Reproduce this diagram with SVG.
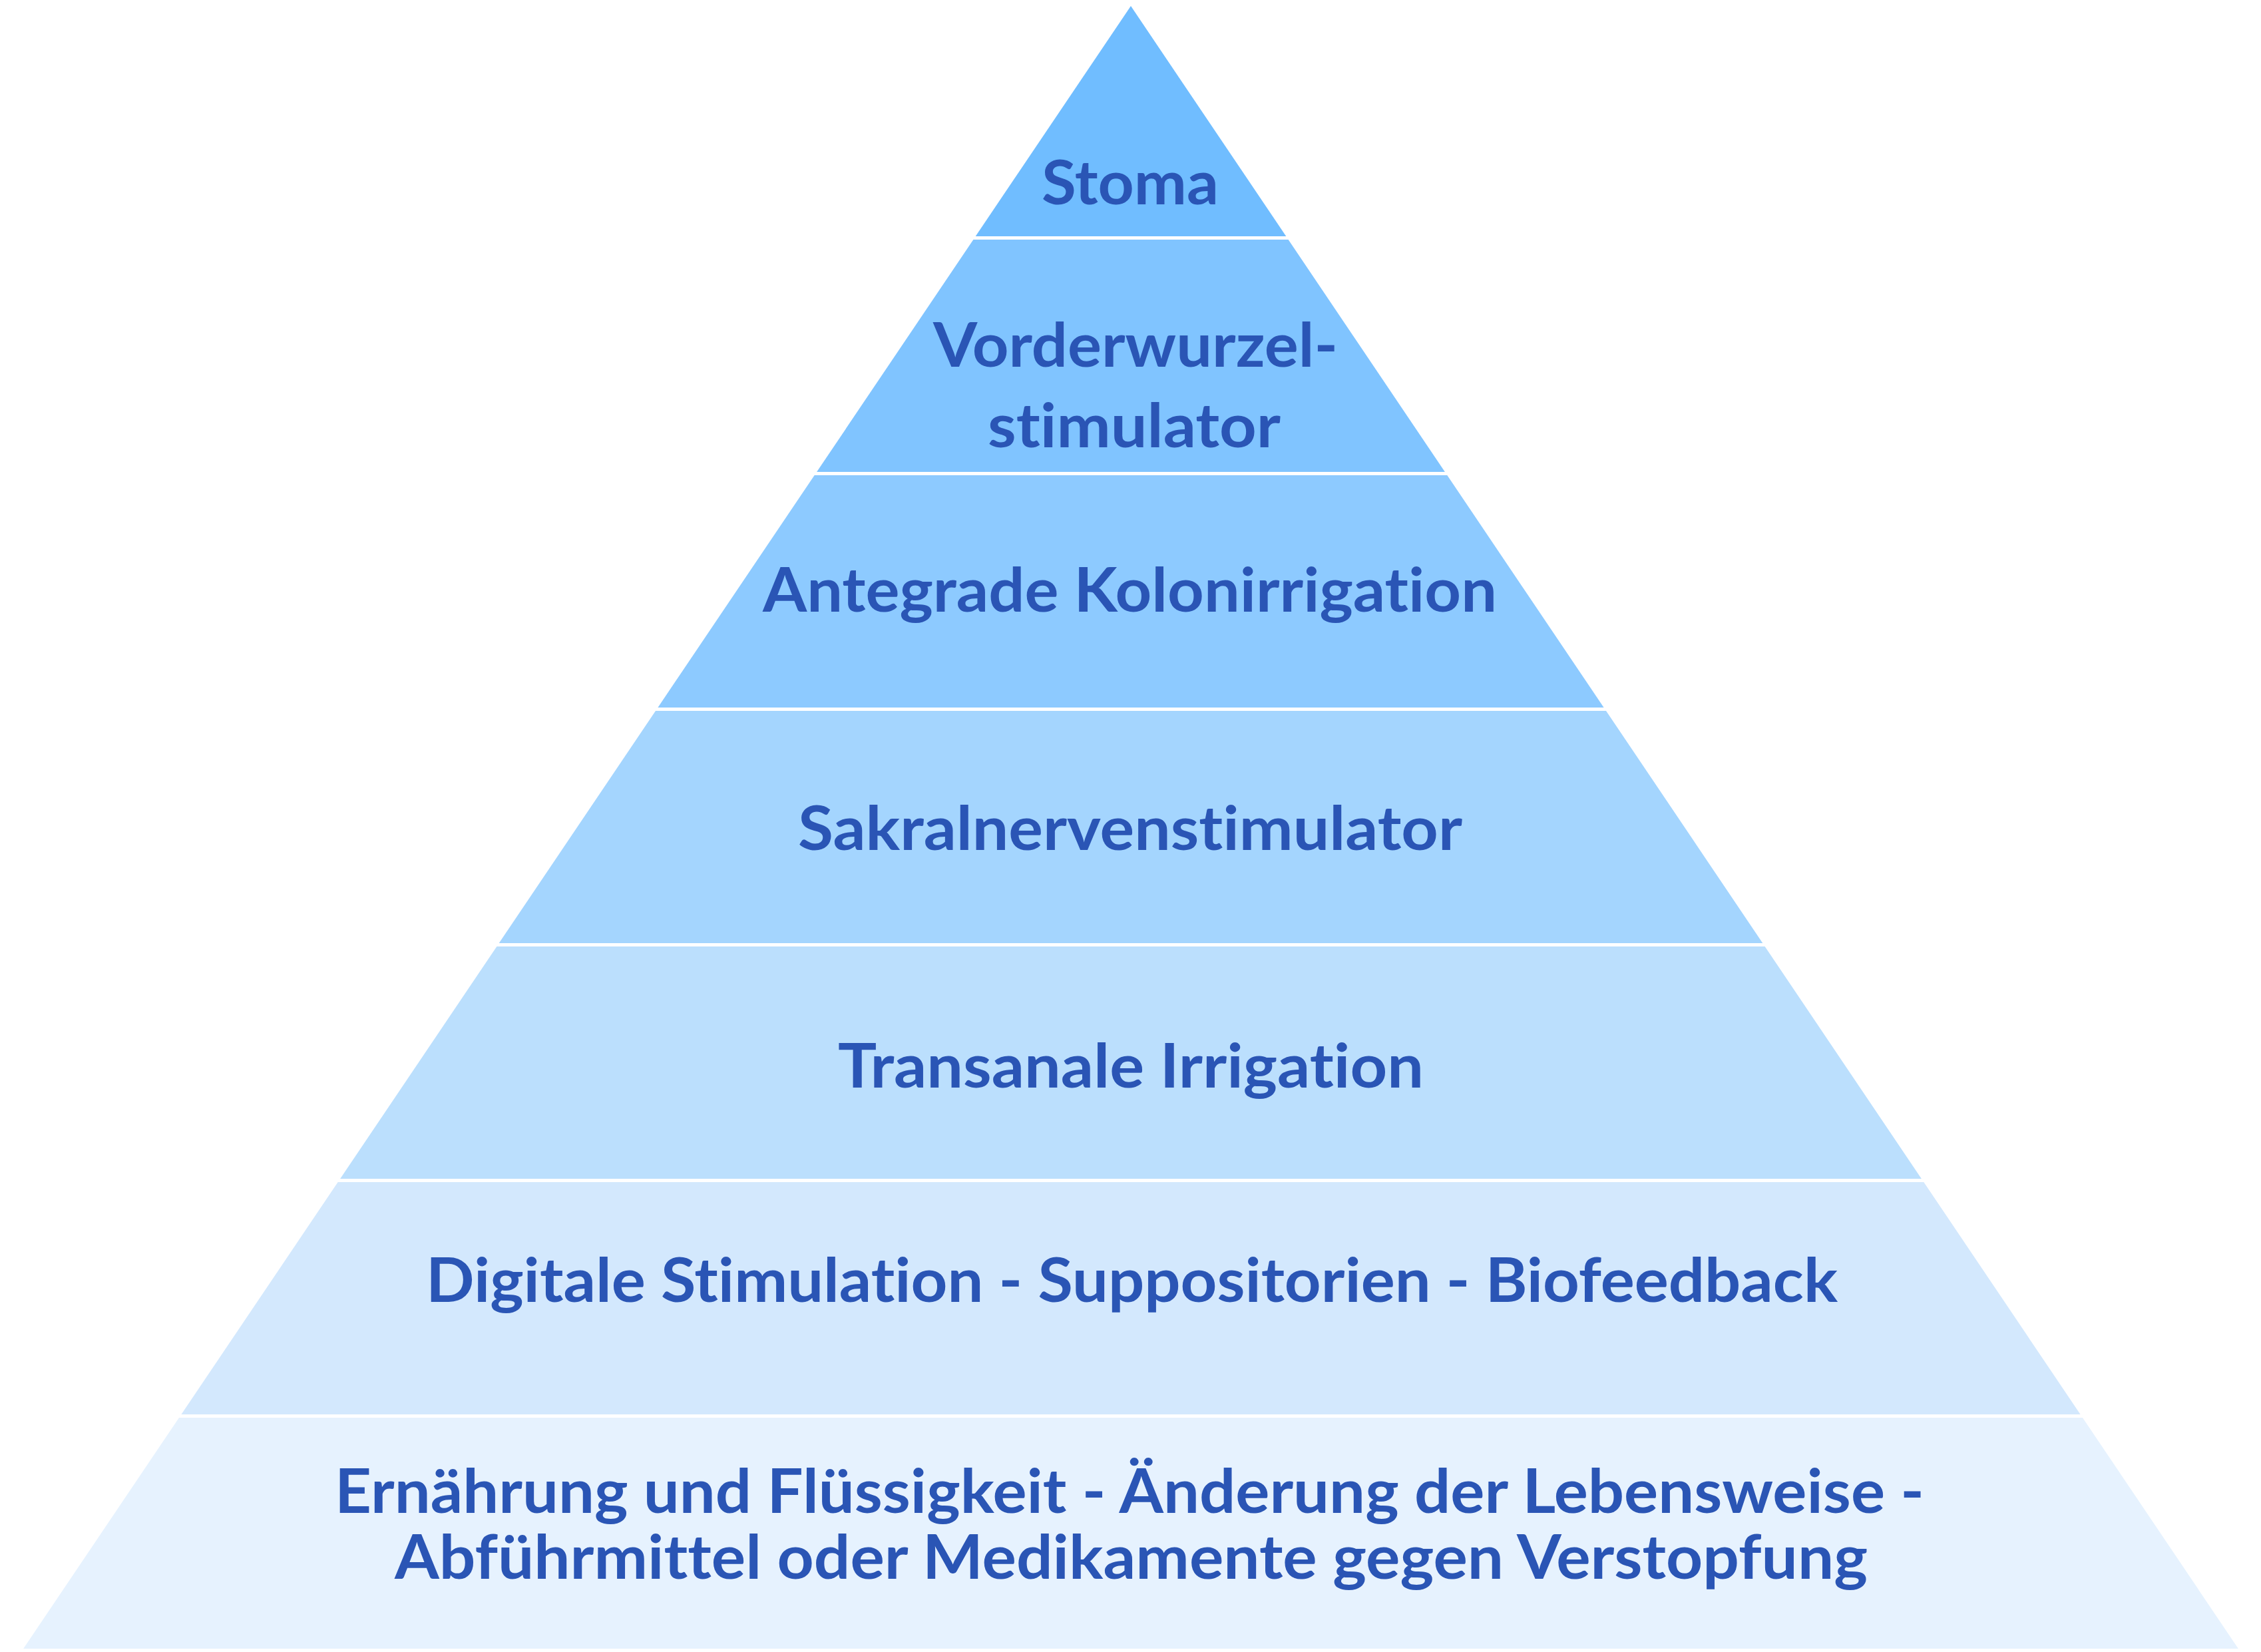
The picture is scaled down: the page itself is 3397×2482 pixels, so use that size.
<svg xmlns="http://www.w3.org/2000/svg" width="3397" height="2482" viewBox="0 0 3397 2482">
<style>
.lbl{font-family:Lato,"Open Sans","Liberation Sans",sans-serif;font-weight:700;font-size:91px;fill:#2A55B5;font-variant-ligatures:none;font-feature-settings:"liga" 0,"clig" 0}
</style>
<rect x="0" y="0" width="3397" height="2482" fill="#FFFFFF"/>
<g id="layer1"><polygon points="1699,9 1932.3,355 1465.7,355" fill="#70BDFF"/>
<text class="lbl" x="1565" y="307" textLength="266" lengthAdjust="spacingAndGlyphs">Stoma</text></g>
<g id="layer2"><polygon points="1462.4,360 1935.6,360 2170.9,709 1227.1,709" fill="#80C4FF"/>
<text class="lbl" x="1402" y="551" textLength="608" lengthAdjust="spacingAndGlyphs">Vorderwurzel-</text>
<text class="lbl" x="1484" y="672" textLength="440" lengthAdjust="spacingAndGlyphs">stimulator</text></g>
<g id="layer3"><polygon points="1223.7,714 2174.3,714 2409.6,1063 988.4,1063" fill="#8DCAFF"/>
<text class="lbl" x="1146" y="919" textLength="1103" lengthAdjust="spacingAndGlyphs">Antegrade Kolonirrigation</text></g>
<g id="layer4"><polygon points="985,1068 2413,1068 2648.3,1417 749.7,1417" fill="#A4D5FE"/>
<text class="lbl" x="1199" y="1277" textLength="998" lengthAdjust="spacingAndGlyphs">Sakralnervenstimulator</text></g>
<g id="layer5"><polygon points="746.4,1422 2651.6,1422 2886.9,1771 511.1,1771" fill="#BBDFFD"/>
<text class="lbl" x="1259" y="1634" textLength="880" lengthAdjust="spacingAndGlyphs">Transanale Irrigation</text></g>
<g id="layer6"><polygon points="507.7,1776 2890.3,1776 3125.6,2125 272.4,2125" fill="#D3E8FD"/>
<text class="lbl" x="640" y="1956" textLength="2121" lengthAdjust="spacingAndGlyphs">Digitale Stimulation - Suppositorien - Biofeedback</text></g>
<g id="layer7"><polygon points="269,2130 3129,2130 3362.9,2477 35.1,2477" fill="#E6F2FE"/>
<text class="lbl" x="503" y="2273" textLength="2388" lengthAdjust="spacingAndGlyphs">Ernährung und Flüssigkeit - Änderung der Lebensweise -</text>
<text class="lbl" x="593" y="2372" textLength="2213" lengthAdjust="spacingAndGlyphs">Abführmittel oder Medikamente gegen Verstopfung</text></g>
<g id="connectors"></g>
</svg>
